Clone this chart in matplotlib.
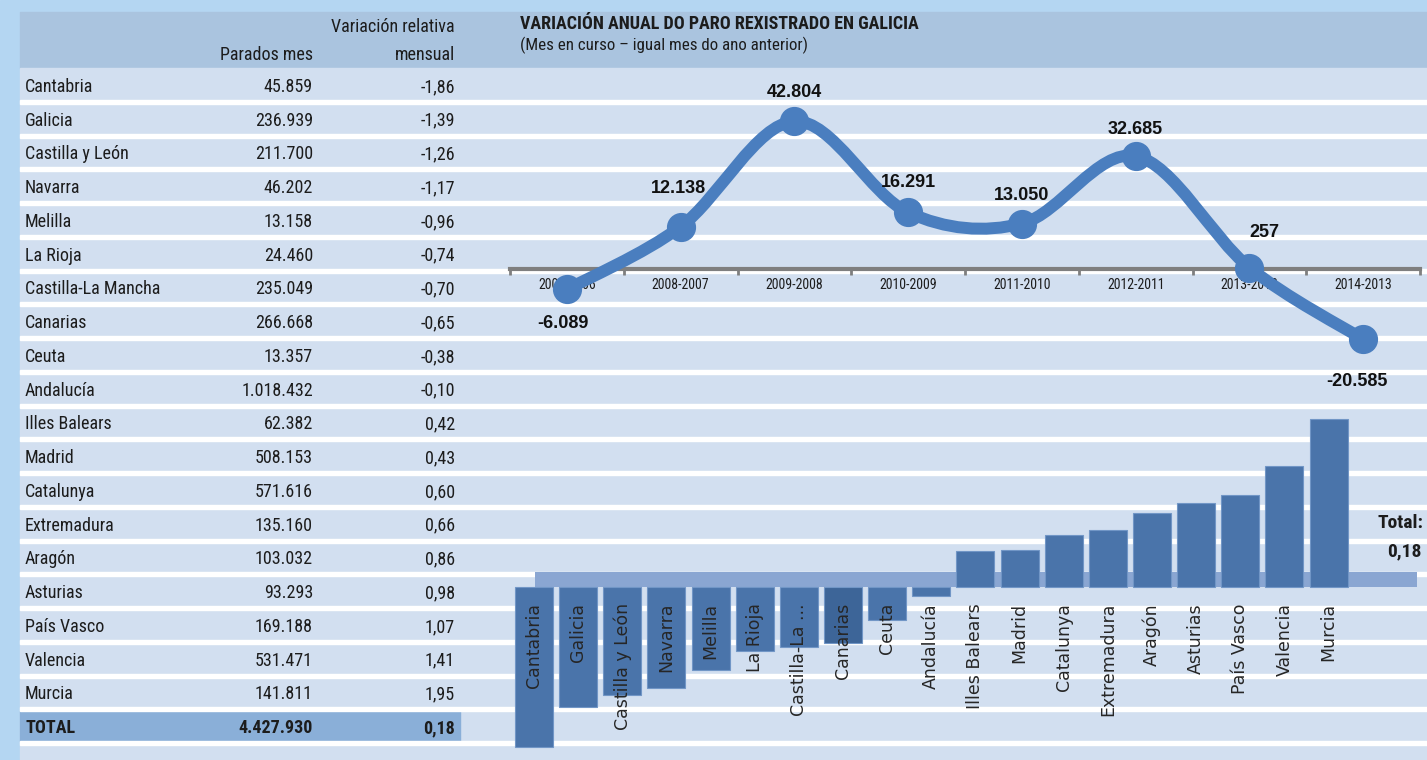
import matplotlib
matplotlib.use("Agg")
import matplotlib.pyplot as plt
from matplotlib.patches import Rectangle, PathPatch
from matplotlib.path import Path
import numpy as np

# ---------------- data ----------------
regions = ["Cantabria", "Galicia", "Castilla y León", "Navarra", "Melilla", "La Rioja",
           "Castilla-La Mancha", "Canarias", "Ceuta", "Andalucía", "Illes Balears", "Madrid",
           "Catalunya", "Extremadura", "Aragón", "Asturias", "País Vasco", "Valencia", "Murcia"]
bar_labels = ["Cantabria", "Galicia", "Castilla y León", "Navarra", "Melilla", "La Rioja",
              "Castilla-La ...", "Canarias", "Ceuta", "Andalucía", "Illes Balears", "Madrid",
              "Catalunya", "Extremadura", "Aragón", "Asturias", "País Vasco", "Valencia", "Murcia"]
parados = ["45.859", "236.939", "211.700", "46.202", "13.158", "24.460", "235.049", "266.668",
           "13.357", "1.018.432", "62.382", "508.153", "571.616", "135.160", "103.032",
           "93.293", "169.188", "531.471", "141.811"]
variacion = [-1.86, -1.39, -1.26, -1.17, -0.96, -0.74, -0.70, -0.65, -0.38, -0.10,
             0.42, 0.43, 0.60, 0.66, 0.86, 0.98, 1.07, 1.41, 1.95]
total_parados = "4.427.930"
total_variacion = 0.18

years = ["2007-2006", "2008-2007", "2009-2008", "2010-2009", "2011-2010",
         "2012-2011", "2013-2012", "2014-2013"]
annual_change = [-6089, 12138, 42804, 16291, 13050, 32685, 257, -20585]

# ---------------- style ----------------
NARROW = ["Roboto Condensed", "Liberation Sans", "DejaVu Sans"]
ARIAL = ["Liberation Sans", "DejaVu Sans"]

OUTER = "#b4d6f2"
HEADER = "#aac4df"
ROW = "#d2dff0"
TOTALBAND = "#8aafd8"
BAR = "#4a74aa"
BAR_DARK = "#3d6598"
BAR_EDGE = "#7196c6"
FLOOR = "#8aa6d2"
LINE = "#4a7ebf"
TXT = "#1c1c1c"


def fmt_es(v):
    return f"{v:.2f}".replace(".", ",")


W, H = 1427, 760
fig = plt.figure(figsize=(W / 100, H / 100), dpi=100)

# background in pixel coordinates
bg = fig.add_axes([0, 0, 1, 1])
bg.set_xlim(0, W)
bg.set_ylim(H, 0)
bg.axis("off")
bg.add_patch(Rectangle((0, 0), W, H, color=OUTER, zorder=0))
bg.add_patch(Rectangle((20, 12), W - 20, 56, color=HEADER, zorder=0.1))
bg.add_patch(Rectangle((20, 68), W - 20, H - 68, color=ROW, zorder=0.1))
row_h = 33.75
bg.add_patch(Rectangle((20, 68 + 19 * row_h + 2), 440, row_h - 4, color=TOTALBAND, zorder=0.2))
for k in range(1, 21):
    y = 68 + k * row_h
    bg.add_patch(Rectangle((20, y - 2), W - 20, 4, color="white", zorder=0.3))

FS = 13
# table header
bg.text(313, 55, "Parados mes", ha="right", va="center", fontsize=FS, family=NARROW, color=TXT)
bg.text(455, 27, "Variación relativa", ha="right", va="center", fontsize=FS, family=NARROW, color=TXT)
bg.text(455, 55, "mensual", ha="right", va="center", fontsize=FS, family=NARROW, color=TXT)

# table rows
for i, (r, p, v) in enumerate(zip(regions, parados, variacion)):
    yc = 68 + (i + 0.5) * row_h + 2
    bg.text(25, yc, r, ha="left", va="center", fontsize=FS, family=NARROW, color=TXT)
    bg.text(313, yc, p, ha="right", va="center", fontsize=FS, family=NARROW, color=TXT)
    bg.text(455, yc, fmt_es(v), ha="right", va="center", fontsize=FS, family=NARROW, color=TXT)
yc = 68 + 19.5 * row_h + 2
bg.text(25, yc, "TOTAL", ha="left", va="center", fontsize=FS, family=NARROW,
        weight="bold", color=TXT)
bg.text(313, yc, total_parados, ha="right", va="center", fontsize=FS, family=NARROW,
        weight="bold", color=TXT)
bg.text(455, yc, fmt_es(total_variacion), ha="right", va="center", fontsize=FS,
        family=NARROW, weight="bold", color=TXT)

# chart title
bg.text(520, 24, "VARIACIÓN ANUAL DO PARO REXISTRADO EN GALICIA", ha="left", va="center",
        fontsize=13, family=NARROW, weight="bold", color=TXT)
bg.text(520, 45, "(Mes en curso – igual mes do ano anterior)", ha="left", va="center",
        fontsize=12.2, family=NARROW, color=TXT)

# Total label
bg.text(1423, 523, "Total:", ha="right", va="center", fontsize=14, family=NARROW,
        weight="bold", color=TXT)
bg.text(1421, 551, fmt_es(total_variacion), ha="right", va="center", fontsize=14,
        family=NARROW, weight="bold", color=TXT)

# ---------------- line chart ----------------
px_per_unit = 0.00344
zero_px = 268.5
top_px, bot_px = 68, 400
ax_l = fig.add_axes([510 / W, (H - bot_px) / H, 910 / W, (bot_px - top_px) / H])
ax_l.set_xlim(-0.5, len(years) - 0.5)
ax_l.set_ylim(-(bot_px - zero_px) / px_per_unit, (zero_px - top_px) / px_per_unit)
ax_l.patch.set_visible(False)
for s in ["top", "left", "right"]:
    ax_l.spines[s].set_visible(False)
ax_l.spines["bottom"].set_position(("data", 0))
ax_l.spines["bottom"].set_color("#7f7f7f")
ax_l.spines["bottom"].set_linewidth(3)
ax_l.set_yticks([])
ax_l.set_xticks(range(len(years)))
ax_l.set_xticklabels(years, fontsize=10, family=NARROW, color=TXT)
ax_l.set_xticks(np.arange(-0.5, len(years)), minor=True)
ax_l.tick_params(axis="x", which="major", length=0, pad=7)
ax_l.tick_params(axis="x", which="minor", length=4, width=2, color="#7f7f7f", direction="out")

# smoothed line (Bezier through the data points)
xs = np.arange(len(annual_change), dtype=float)
ys = np.array(annual_change, dtype=float)
pts = np.column_stack([xs, ys])
verts = [pts[0]]
codes = [Path.MOVETO]
n = len(pts)
for i in range(n - 1):
    p_prev = pts[i - 1] if i > 0 else pts[i]
    p0, p1 = pts[i], pts[i + 1]
    p_next = pts[i + 2] if i + 2 < n else pts[i + 1]
    c1 = p0 + (p1 - p_prev) / 6.0
    c2 = p1 - (p_next - p0) / 6.0
    verts += [c1, c2, p1]
    codes += [Path.CURVE4] * 3
ax_l.add_patch(PathPatch(Path(verts, codes), facecolor="none", edgecolor=LINE, lw=8.6,
                         capstyle="round", joinstyle="round", zorder=5))
ax_l.plot(xs, ys, "o", ms=20, color=LINE, zorder=6)

offsets = [(-4, -34), (-2, 38), (0, 29), (0, 30), (0, 28), (0, 27), (15, 35), (-6, -42)]
for x, v, off in zip(xs, annual_change, offsets):
    lbl = f"{v:,}".replace(",", ".")
    ax_l.annotate(lbl, (x, v), xytext=off, textcoords="offset pixels", ha="center",
                  va="center", fontsize=13, family=ARIAL, weight="bold", color="#111111",
                  zorder=7)

# ---------------- bar chart ----------------
pitch = 44.14
c0 = 534.0
bzero = 587.0
bpx = 86.0
left_px = 490
ax_b = fig.add_axes([left_px / W, 0, (W - left_px) / W, (H - 400) / H])
ax_b.set_xlim((left_px - c0) / pitch, (W - c0) / pitch)
ax_b.set_ylim(-(H - bzero) / bpx, (bzero - 400) / bpx)
ax_b.axis("off")
ax_b.add_patch(Rectangle((0.02, 0), 20.0 - 0.02, 15 / bpx, facecolor=FLOOR,
                         edgecolor="none", zorder=1))
colors = [BAR_DARK if r == "Canarias" else BAR for r in regions]
ax_b.bar(range(len(variacion)), variacion, width=0.86, color=colors, edgecolor=BAR_EDGE,
         linewidth=0.8, zorder=2)
for i, lab in enumerate(bar_labels):
    ax_b.text(i, -16 / bpx, lab, rotation=90, ha="center", va="top", fontsize=12.5,
              family="DejaVu Sans", color="#262626", zorder=3)

fig.savefig("out.png", dpi=100)
